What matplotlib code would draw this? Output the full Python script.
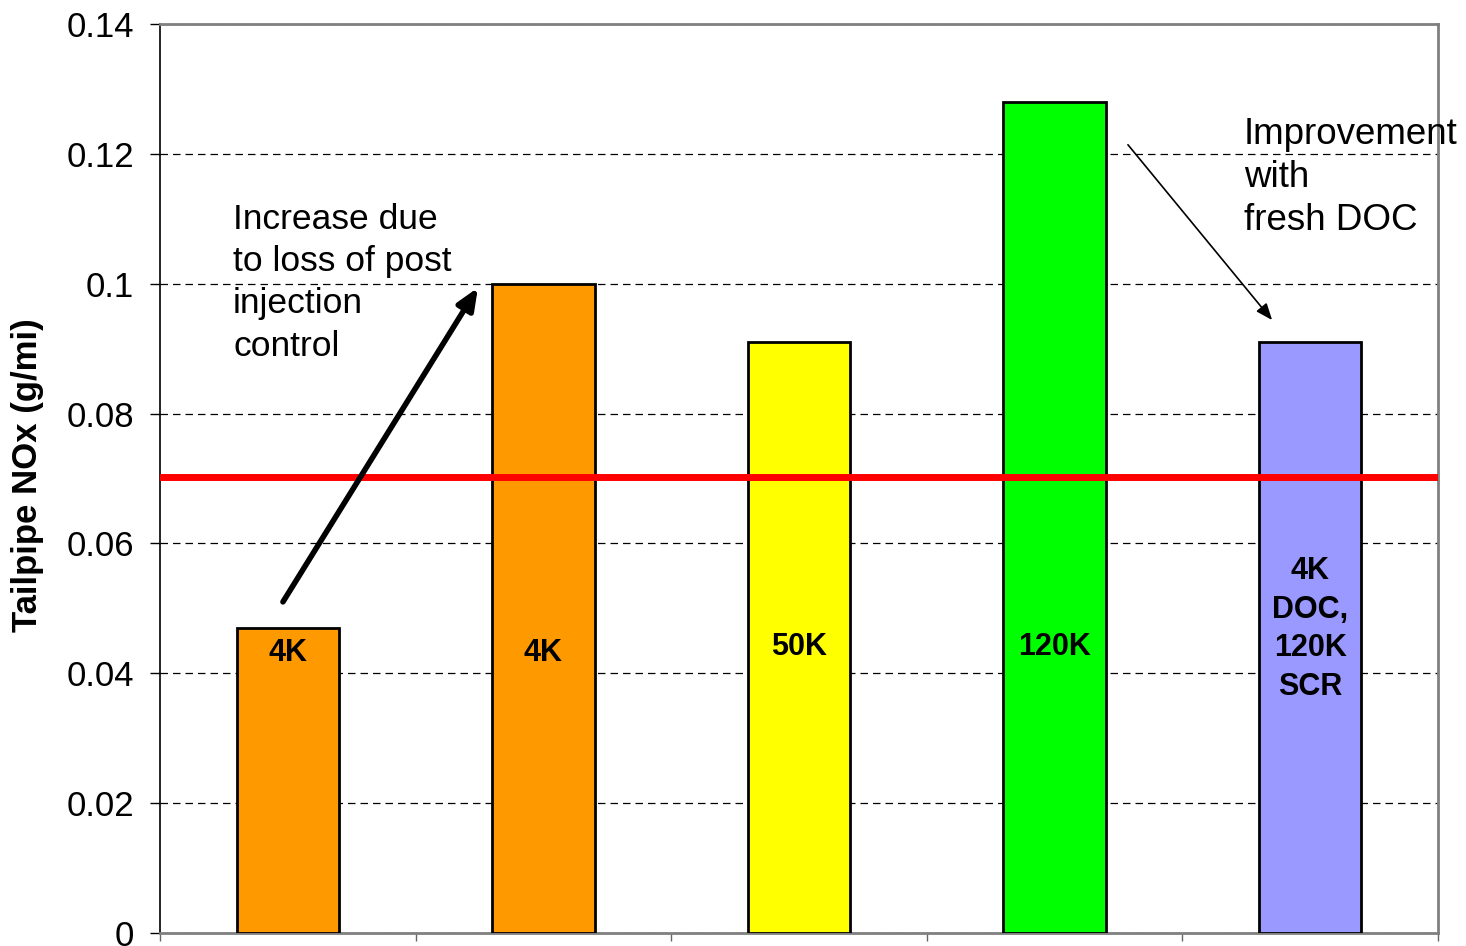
import matplotlib
matplotlib.use("Agg")
import matplotlib.pyplot as plt

plt.rcParams['font.family'] = ['Liberation Sans', 'DejaVu Sans']

# Tailpipe NOx by aging condition
categories = ["4K", "4K", "50K", "120K", "4K\nDOC,\n120K\nSCR"]
nox_values = [0.047, 0.100, 0.091, 0.128, 0.091]
bar_colors = ["#FF9900", "#FF9900", "#FFFF00", "#00FF00", "#9999FF"]
label_heights = [0.0431, 0.0431, 0.0441, 0.0441, 0.0468]
nox_limit = 0.0703
y_ticks = [0, 0.02, 0.04, 0.06, 0.08, 0.1, 0.12, 0.14]
y_tick_labels = ["0", "0.02", "0.04", "0.06", "0.08", "0.1", "0.12", "0.14"]

fig = plt.figure(figsize=(14.66, 9.46), dpi=100)
ax = fig.add_axes([160 / 1466, 13 / 946, 1278 / 1466, 909 / 946])

x = list(range(len(nox_values)))
ax.bar(x, nox_values, width=0.4, color=bar_colors, edgecolor="black",
       linewidth=2, zorder=3)

# limit line
ax.axhline(nox_limit, color="#FF0000", linewidth=5, zorder=4)

ax.set_xlim(-0.5, len(nox_values) - 0.5)
ax.set_ylim(0, 0.14)
ax.set_yticks(y_ticks)
ax.set_yticklabels(y_tick_labels, fontsize=25)
ax.set_xticks([i - 0.5 for i in range(len(nox_values) + 1)])
ax.set_xticklabels([])
ax.tick_params(axis="y", length=7, width=1, direction="out", pad=11.5)
ax.tick_params(axis="x", length=6, width=1, direction="out", color="#666666")

ax.yaxis.grid(True, linestyle=(0, (6, 4)), color="black", linewidth=0.9)
ax.set_axisbelow(True)

ax.spines["left"].set_color("black")
ax.spines["left"].set_linewidth(1.2)
for s in ["top", "right", "bottom"]:
    ax.spines[s].set_color("#808080")
    ax.spines[s].set_linewidth(2)

fig.text(28 / 1466, 1 - 475 / 946, "Tailpipe NOx (g/mi)", rotation=90,
         ha="center", va="center", fontsize=25, fontweight="bold")

# bar labels
for xi, lab, h in zip(x, categories, label_heights):
    ax.text(xi, h, lab, ha="center", va="center", fontsize=22,
            fontweight="bold", linespacing=1.37, zorder=5)

# annotations
ax.annotate("", xy=(0.744, 0.0994), xytext=(-0.019, 0.051),
            arrowprops=dict(arrowstyle="-|>,head_length=1.3,head_width=0.55",
                            color="black", lw=4, shrinkA=0, shrinkB=0),
            zorder=6)
ax.text(-0.214, 0.1125, "Increase due\nto loss of post\ninjection\ncontrol",
        ha="left", va="top", fontsize=25.5, linespacing=1.36, zorder=6)

ax.annotate("", xy=(3.851, 0.0944), xytext=(3.287, 0.1214),
            arrowprops=dict(arrowstyle="-|>,head_length=1.0,head_width=0.4",
                            color="black", lw=1.2, shrinkA=0, shrinkB=0),
            zorder=6)
ax.text(3.741, 0.1257, "Improvement\nwith\nfresh DOC", ha="left", va="top",
        fontsize=26.5, linespacing=1.29, zorder=6, clip_on=False)

fig.savefig("out.png", dpi=100)
